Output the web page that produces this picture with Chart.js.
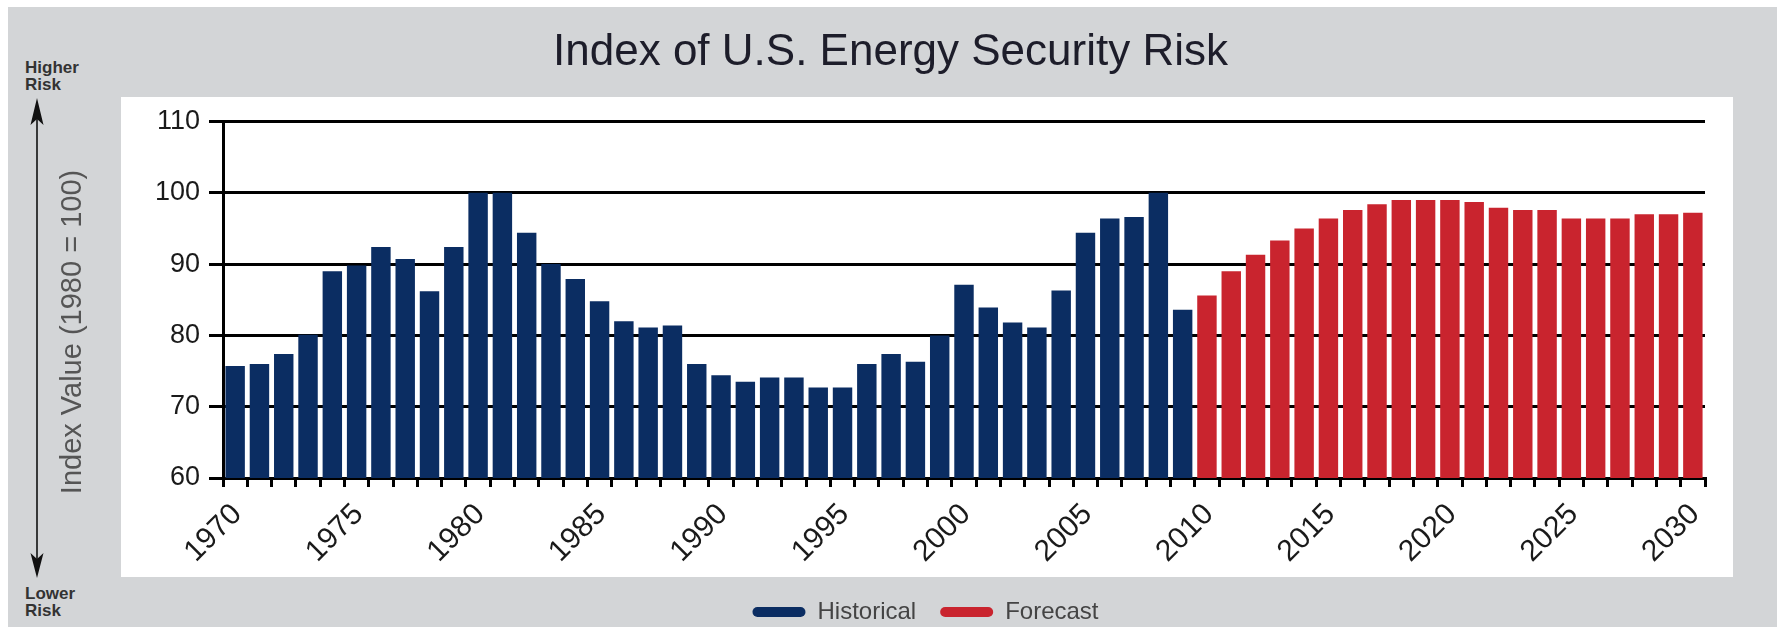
<!DOCTYPE html>
<html>
<head>
<meta charset="utf-8">
<script src="https://cdn.jsdelivr.net/npm/chart.js@4.4.0/dist/chart.umd.min.js"></script>
<style>
  html, body { margin:0; padding:0; background:#ffffff; width:1781px; height:627px; overflow:hidden; }
  #gray { position:absolute; left:8px; top:7px; width:1769px; height:620px; background:#d3d5d7; }
  #panel { position:absolute; left:121px; top:97px; width:1612px; height:480px; background:#ffffff; }
  #arrow { position:absolute; left:0; top:0; }
  .risk { position:absolute; left:25px; font-family:'Liberation Sans', Arial, sans-serif; font-weight:bold; font-size:17px; line-height:17px; color:#333333; }
  #c { position:absolute; left:0; top:0; }
</style>
</head>
<body>
<div id="gray"></div>
<div id="panel"></div>
<svg id="arrow" width="90" height="627">
  <line x1="37" y1="112" x2="37" y2="566" stroke="#111" stroke-width="1.6"/>
  <polygon points="37,98 30.5,125 37,119 43.5,125" fill="#111"/>
  <polygon points="37,578 30.5,553 37,559 43.5,553" fill="#111"/>
</svg>
<div class="risk" style="top:59px;">Higher<br>Risk</div>
<div class="risk" style="top:585px;">Lower<br>Risk</div>
<canvas id="c" width="1781" height="627"></canvas>
<script>
// ---- data ----
const historicalYears = ['1970','1971','1972','1973','1974','1975','1976','1977','1978','1979',
  '1980','1981','1982','1983','1984','1985','1986','1987','1988','1989',
  '1990','1991','1992','1993','1994','1995','1996','1997','1998','1999',
  '2000','2001','2002','2003','2004','2005','2006','2007','2008','2009'];
const forecastYears = ['2010','2011','2012','2013','2014','2015','2016','2017','2018','2019',
  '2020','2021','2022','2023','2024','2025','2026','2027','2028','2029','2030'];
const historicalValues = [75.7, 76.0, 77.4, 80.1, 89.0, 89.8, 92.4, 90.7, 86.2, 92.4,
  100.0, 100.0, 94.4, 90.0, 87.9, 84.8, 82.0, 81.1, 81.4, 76.0,
  74.4, 73.5, 74.1, 74.1, 72.7, 72.7, 76.0, 77.4, 76.3, 80.0,
  87.1, 83.9, 81.8, 81.1, 86.3, 94.4, 96.4, 96.6, 100.0, 83.6];
const forecastValues = [85.6, 89.0, 91.3, 93.3, 95.0, 96.4, 97.6, 98.4, 99.0, 99.0,
  99.0, 98.7, 97.9, 97.6, 97.6, 96.4, 96.4, 96.4, 97.0, 97.0, 97.2];
const xTickLabels = ['1970','1975','1980','1985','1990','1995','2000','2005','2010','2015','2020','2025','2030'];
const yTicks = [60, 70, 80, 90, 100, 110];
const yAxisTitle = 'Index Value (1980 = 100)';

// ---- build the table the library needs ----
const categories = historicalYears.concat(forecastYears);
const histData = categories.map((y) => { const i = historicalYears.indexOf(y); return i >= 0 ? historicalValues[i] : null; });
const foreData = categories.map((y) => { const i = forecastYears.indexOf(y); return i >= 0 ? forecastValues[i] : null; });

const REG = "'Liberation Sans', Arial, sans-serif";

const layoutTweaks = {
  id: 'layoutTweaks',
  afterLayout(chart) {
    const l = chart.legend;
    if (l) { l.left += 45; l.right += 45; }
    const t = chart.titleBlock;
    if (t) { t.left += 10; t.right += 10; }
  },
  afterDraw(chart) {
    // y-axis title, placed in the grey margin like the original
    const ctx = chart.ctx;
    ctx.save();
    ctx.translate(73, 332);
    ctx.rotate(-Math.PI / 2);
    ctx.font = "29px " + REG;
    ctx.fillStyle = '#555555';
    ctx.textAlign = 'center';
    ctx.textBaseline = 'middle';
    ctx.fillText(yAxisTitle, 0, 0);
    ctx.restore();
  }
};

new Chart(document.getElementById('c').getContext('2d'), {
  type: 'bar',
  data: {
    labels: categories,
    datasets: [
      { label: 'Historical', data: histData, backgroundColor: '#0b2d62', borderWidth: 0,
        barPercentage: 0.8, categoryPercentage: 1.0, grouped: false },
      { label: 'Forecast', data: foreData, backgroundColor: '#c9242e', borderWidth: 0,
        barPercentage: 0.8, categoryPercentage: 1.0, grouped: false }
    ]
  },
  plugins: [layoutTweaks],
  options: {
    responsive: false,
    animation: false,
    devicePixelRatio: 1,
    layout: { padding: { left: 56, right: 76, top: 0, bottom: -7 } },
    plugins: {
      title: {
        display: true,
        text: 'Index of U.S. Energy Security Risk',
        color: '#1d1d2a',
        font: { family: REG, size: 44, weight: 'normal', lineHeight: 1.2 },
        padding: { top: 26.6, bottom: 42.1 }
      },
      legend: {
        position: 'bottom',
        labels: {
          boxWidth: 53, boxHeight: 10, useBorderRadius: true, borderRadius: 5,
          padding: 24, color: '#444444',
          font: { family: REG, size: 24 }
        }
      },
      tooltip: { enabled: false }
    },
    scales: {
      x: {
        grid: { drawOnChartArea: false, drawTicks: true, tickLength: 9, lineWidth: 3, color: '#000', offset: true },
        border: { display: true, color: '#000', width: 3 },
        ticks: {
          autoSkip: false, maxRotation: 45, minRotation: 45, padding: 10, labelOffset: 2,
          color: '#1a1a1a', font: { family: REG, size: 30 },
          callback: function (v) { const l = this.getLabelForValue(v); return xTickLabels.includes(l) ? l : ''; }
        },
        afterFit: (s) => { s.height = 98; }
      },
      y: {
        min: yTicks[0], max: yTicks[yTicks.length - 1],
        afterBuildTicks: (s) => { s.ticks = yTicks.map((v) => ({ value: v })); },
        ticks: { padding: 9, color: '#1a1a1a', font: { family: REG, size: 27 } },
        grid: { color: '#000', lineWidth: 3, tickLength: 14, drawTicks: true },
        border: { display: true, color: '#000', width: 3 },
        title: { display: false },
        afterFit: (s) => { s.width = 167; }
      }
    }
  }
});
</script>
</body>
</html>
